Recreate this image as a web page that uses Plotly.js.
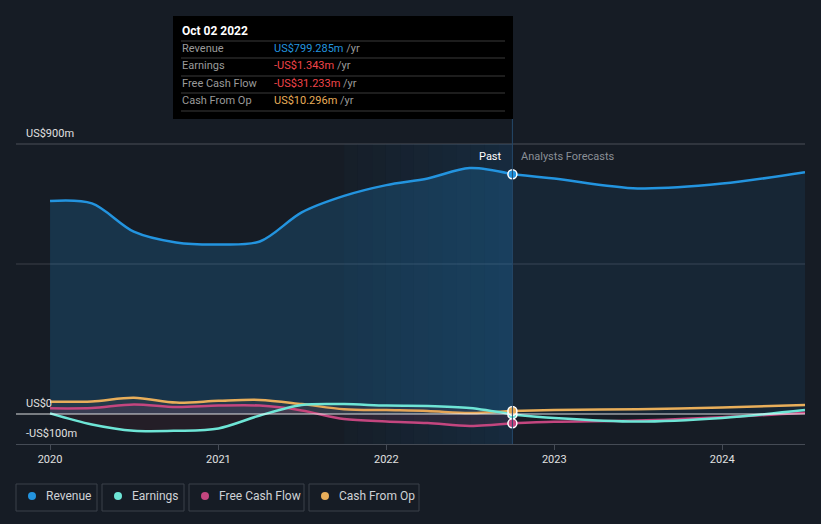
<!DOCTYPE html>
<html>
<head>
<meta charset="utf-8">
<script src="https://cdn.plot.ly/plotly-3.0.1.min.js"></script>
<style>
html,body{margin:0;padding:0;background:#161c25;}
#chart{width:821px;height:524px;}
</style>
</head>
<body>
<div id="chart"></div>
<script>
// ---- data ----
var pastDates = ['2020-01-01','2020-04-01','2020-07-01','2020-10-01','2021-01-01','2021-04-01','2021-07-01','2021-10-01','2022-01-01','2022-04-01','2022-07-01','2022-10-02'];
var revenuePast = [710, 702, 608, 572, 565, 575, 672, 727, 763, 785, 820, 799.285];
var earningsPast = [2, -35, -56, -56, -48, -5, 30, 33, 28, 27, 20, -1.343];
var fcfPast = [19, 20, 32, 23, 28, 28, 12, -17, -25, -30, -40, -31.233];
var cfoPast = [41, 42, 54, 38, 44, 47, 33, 16, 13, 10, 3, 10.296];

var fcDates = ['2022-10-02','2023-01-01','2023-07-01','2024-01-01','2024-06-29'];
var revenueFc = [799.285, 785, 752, 768, 806];
var earningsFc = [-1.343, -13, -25, -13, 13];
var fcfFc = [-31.233, -26, -22, -11, 4];
var cfoFc = [10.296, 13, 16, 22, 30];

var seriesNames = ['Revenue','Earnings','Free Cash Flow','Cash From Op'];
var seriesColors = ['#2394df','#6ee5d6','#c4467f','#e8ae5a'];
var tooltipDate = 'Oct 02 2022';
var tooltipValues = ['US$799.285m','-US$1.343m','-US$31.233m','US$10.296m'];
var tooltipColors = ['#2394df','#f0454a','#f0454a','#e8ae5a'];
var yLabels = [{v:900,t:'US$900m'},{v:0,t:'US$0'},{v:-100,t:'-US$100m'}];
var highlightStart = '2021-10-01';

// ---- layout helpers ----
var ML=16, MR=16, MT=120, MB=80, W=821, H=524;
var PW=W-ML-MR, PH=H-MT-MB;
function px(x){return (x-ML)/PW;}
function py(y){return (H-MB-y)/PH;}

var traces = [];
function line(x,y,color,fill,fillcolor){
  return {x:x,y:y,type:'scatter',mode:'lines',line:{color:color,width:2.5,shape:'spline',smoothing:0.9},
    fill:fill||'none',fillcolor:fillcolor,hoverinfo:'skip',showlegend:false,cliponaxis:true};
}
traces.push(line(pastDates,revenuePast,seriesColors[0],'tozeroy','rgba(35,148,223,0.2)'));
traces.push(line(fcDates,revenueFc,seriesColors[0],'tozeroy','rgba(35,148,223,0.09)'));
traces.push(line(pastDates,cfoPast,seriesColors[3],'tozeroy','rgba(232,174,90,0.06)'));
traces.push(line(fcDates,cfoFc,seriesColors[3],'none'));
traces.push(line(pastDates,fcfPast,seriesColors[2],'tozeroy','rgba(196,70,127,0.12)'));
traces.push(line(fcDates,fcfFc,seriesColors[2],'none'));
traces.push(line(pastDates,earningsPast,seriesColors[1],'tozeroy','rgba(200,60,70,0.08)'));
traces.push(line(fcDates,earningsFc,seriesColors[1],'none'));
// markers at tooltip date
var last = pastDates.length-1;
[[earningsPast,1],[fcfPast,2],[cfoPast,3],[revenuePast,0]].forEach(function(p){
  traces.push({x:[pastDates[last]],y:[p[0][last]],type:'scatter',mode:'markers',
    marker:{color:seriesColors[p[1]],size:9,line:{color:'#ffffff',width:1.5}},hoverinfo:'skip',showlegend:false});
});

var shapes = [];
var annotations = [];
// highlight region (gradient via strips)
var hs = new Date(highlightStart).getTime(), he = new Date(pastDates[last]).getTime();
var N=12;
for(var i=0;i<N;i++){
  var a = new Date(hs+(he-hs)*i/N), b = new Date(hs+(he-hs)*(i+1)/N);
  shapes.push({type:'rect',xref:'x',yref:'y',x0:a.toISOString().slice(0,10),x1:b.toISOString().slice(0,10),y0:-100,y1:900,
    fillcolor:'rgba(30,120,190,'+(0.03+0.13*i/(N-1)).toFixed(3)+')',line:{width:0},layer:'below'});
}
// gridlines
shapes.push({type:'line',xref:'paper',yref:'y',x0:0,x1:1,y0:900,y1:900,line:{color:'#4a4f58',width:1},layer:'below'});
shapes.push({type:'line',xref:'paper',yref:'y',x0:0,x1:1,y0:500,y1:500,line:{color:'#3a3f48',width:1},layer:'below'});
shapes.push({type:'line',xref:'paper',yref:'y',x0:0,x1:1,y0:0,y1:0,line:{color:'rgba(255,255,255,0.85)',width:1},layer:'above'});
// tooltip vertical line
shapes.push({type:'line',xref:'x',yref:'paper',x0:pastDates[last],x1:pastDates[last],y0:0,y1:py(119),line:{color:'#24486a',width:1}});
// tooltip box
shapes.push({type:'rect',xref:'paper',yref:'paper',x0:px(173),x1:px(513),y0:py(16),y1:py(119),fillcolor:'#000000',line:{width:0}});
[41,58,76,93,111].forEach(function(y){
  shapes.push({type:'line',xref:'paper',yref:'paper',x0:px(181),x1:px(505),y0:py(y),y1:py(y),line:{color:'#3a3a3a',width:1}});
});
annotations.push({xref:'paper',yref:'paper',x:px(180),y:py(31),xanchor:'left',yanchor:'middle',showarrow:false,
  text:'<b>'+tooltipDate+'</b>',font:{family:'Roboto',size:12,color:'#ffffff'}});
var rowY=[49,66,84,101];
for(var k=0;k<4;k++){
  annotations.push({xref:'paper',yref:'paper',x:px(180),y:py(rowY[k]),xanchor:'left',yanchor:'middle',showarrow:false,
    text:seriesNames[k],font:{family:'Roboto',size:11,color:'#9a9a9a'}});
  annotations.push({xref:'paper',yref:'paper',x:px(272),y:py(rowY[k]),xanchor:'left',yanchor:'middle',showarrow:false,
    text:'<span style="color:'+tooltipColors[k]+'">'+tooltipValues[k]+'</span> /yr',font:{family:'Roboto',size:11,color:'#9a9a9a'}});
}
// y labels
yLabels.forEach(function(l){
  annotations.push({xref:'paper',yref:'y',x:px(24),y:l.v,xanchor:'left',yanchor:'bottom',yshift:2,showarrow:false,
    text:l.t,font:{family:'Roboto',size:11,color:'#e0e0e0'}});
});
// Past / Analysts Forecasts
annotations.push({xref:'x',yref:'paper',x:pastDates[last],y:py(156),xanchor:'right',yanchor:'middle',xshift:-8,showarrow:false,
  text:'Past',font:{family:'Roboto',size:11,color:'#ffffff'}});
annotations.push({xref:'x',yref:'paper',x:pastDates[last],y:py(156),xanchor:'left',yanchor:'middle',xshift:7,showarrow:false,
  text:'Analysts Forecasts',font:{family:'Roboto',size:11,color:'#8a8f96'}});
// legend boxes
var boxes=[[16,97],[102,184],[189,304],[309,419]];
var dots=[32,118,205,325];
var texts=[44,130,217,337];
for(var j=0;j<4;j++){
  shapes.push({type:'rect',xref:'paper',yref:'paper',x0:px(boxes[j][0]),x1:px(boxes[j][1]),y0:py(484),y1:py(511),
    fillcolor:'rgba(0,0,0,0)',line:{color:'#3b414b',width:1}});
  shapes.push({type:'circle',xref:'paper',yref:'paper',x0:px(dots[j]-4),x1:px(dots[j]+4),y0:py(492),y1:py(500),
    fillcolor:seriesColors[j],line:{width:0}});
  annotations.push({xref:'paper',yref:'paper',x:px(texts[j]),y:py(496),xanchor:'left',yanchor:'middle',showarrow:false,
    text:seriesNames[j],font:{family:'Roboto',size:12,color:'#cfd2d6'}});
}

var layout = {
  width:W,height:H,margin:{l:ML,r:MR,t:MT,b:MB},
  paper_bgcolor:'#161c25',plot_bgcolor:'#161c25',
  showlegend:false,
  xaxis:{type:'date',range:['2019-10-19','2024-06-29'],showgrid:false,zeroline:false,
    showline:true,linecolor:'#454b55',linewidth:1,ticks:'outside',ticklen:5,tickcolor:'#454b55',
    tickvals:['2020-01-01','2021-01-01','2022-01-01','2023-01-01','2024-01-01'],
    ticktext:['2020','2021','2022','2023','2024'],
    tickfont:{family:'Roboto',size:11,color:'#e0e0e0'},fixedrange:true},
  yaxis:{range:[-100,980],showgrid:false,zeroline:false,showticklabels:false,fixedrange:true},
  shapes:shapes,annotations:annotations,hovermode:false
};
Plotly.newPlot('chart',traces,layout,{displayModeBar:false,staticPlot:true});
</script>
</body>
</html>
